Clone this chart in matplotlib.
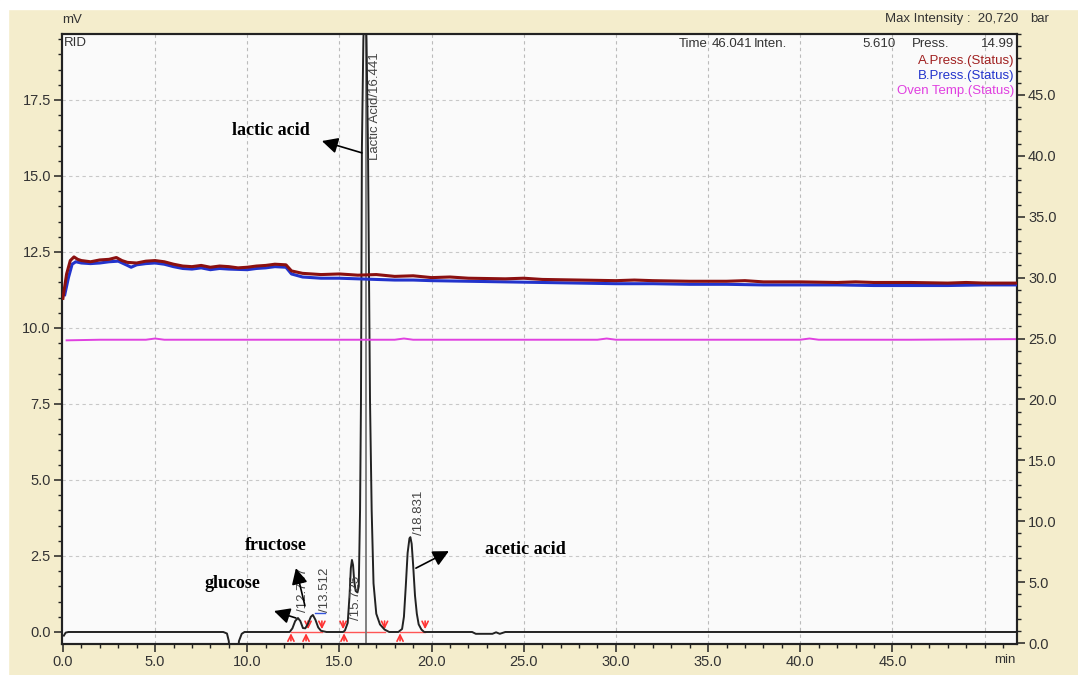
import matplotlib
matplotlib.use("Agg")
import matplotlib.pyplot as plt
from matplotlib.patches import Rectangle
from matplotlib.ticker import MultipleLocator, FormatStrFormatter

# ---------------- data ----------------
# chromatogram (RID signal), time [min] and intensity [mV]
chrom_t = [0.05, 0.15, 0.3, 8.7, 8.9, 9.0, 9.05, 9.45, 9.55, 9.7, 9.85, 12.3, 12.45, 12.6, 12.75, 12.88,
           13.02, 13.15, 13.3, 13.45, 13.56, 13.7, 13.85, 14.0, 14.3, 15.2, 15.3, 15.45, 15.55, 15.62,
           15.68, 15.74, 15.8, 15.88, 15.98, 16.05, 16.12, 16.17, 16.22, 16.3, 16.39, 16.47, 16.55,
           16.66, 16.75, 16.85, 17.0, 17.2, 17.45, 17.7, 18.2, 18.4, 18.5, 18.6, 18.7, 18.8, 18.85,
           18.92, 19.0, 19.1, 19.2, 19.3, 19.45, 19.6, 22.2, 22.4, 23.3, 23.5, 23.7, 24.0, 51.8]
chrom_v = [-0.12, -0.02, 0.0, 0.0, -0.05, -0.3, -1.0, -1.0, -0.3, -0.06, 0.0, 0.0, 0.12, 0.36, 0.46, 0.36,
           0.13, 0.12, 0.28, 0.5, 0.56, 0.4, 0.15, 0.04, 0.0, 0.0, 0.05, 0.3, 1.2, 2.1,
           2.37, 2.2, 1.7, 1.35, 1.3, 1.5, 4.0, 7.6, 15.9, 19.5, 21.0, 19.5, 15.9,
           7.6, 4.0, 1.6, 0.6, 0.25, 0.08, 0.0, 0.0, 0.1, 0.5, 1.5, 2.6, 3.08, 3.12,
           2.9, 2.2, 1.2, 0.6, 0.25, 0.08, 0.0, 0.0, -0.06, -0.06, -0.01, -0.06, 0.0, 0.0]

# pump pressures [bar]
pa_t = [0.0, 0.2, 0.4, 0.6, 0.8, 1.0, 1.5, 2.0, 2.5, 2.9, 3.2, 3.5, 4.0, 4.5, 5.0, 5.5, 6.0, 6.5, 7.0,
        7.5, 8.0, 8.5, 9.0, 9.5, 10.0, 10.5, 11.0, 11.5, 12.1, 12.4, 13.0, 13.5, 14.0, 15.0, 16.0, 17.0,
        18.0, 19.0, 20.0, 21.0, 22.0, 24.0, 25.0, 26.0, 28.0, 30.0, 31.0, 32.0, 34.0, 36.0, 37.0, 38.0,
        40.0, 42.0, 43.0, 44.0, 46.0, 48.0, 49.0, 50.0, 51.7]
pa_v = [28.3, 30.3, 31.4, 31.7, 31.5, 31.4, 31.3, 31.45, 31.5, 31.65, 31.4, 31.25, 31.2, 31.35, 31.4, 31.3,
        31.1, 30.95, 30.9, 31.0, 30.85, 30.95, 30.9, 30.8, 30.85, 30.95, 31.0, 31.1, 31.05, 30.55, 30.35,
        30.3, 30.25, 30.3, 30.2, 30.25, 30.1, 30.15, 30.0, 30.05, 29.95, 29.9, 29.95, 29.85, 29.8, 29.75,
        29.8, 29.75, 29.7, 29.7, 29.75, 29.65, 29.65, 29.6, 29.65, 29.6, 29.6, 29.55, 29.6, 29.55, 29.55]
pb_t = [0.1, 0.3, 0.5, 0.7, 1.0, 1.5, 2.0, 2.5, 3.0, 3.5, 3.7, 4.0, 4.5, 5.0, 5.5, 6.0, 6.5, 7.0, 7.5,
        8.0, 8.5, 9.0, 10.0, 10.5, 11.0, 11.5, 12.1, 12.4, 13.0, 14.0, 15.0, 16.0, 17.0, 18.0, 19.0,
        20.0, 22.0, 24.0, 26.0, 28.0, 30.0, 32.0, 34.0, 36.0, 38.0, 40.0, 42.0, 44.0, 46.0, 48.0, 50.0,
        51.7]
pb_v = [28.6, 30.0, 31.1, 31.3, 31.2, 31.15, 31.2, 31.3, 31.35, 31.0, 30.85, 31.05, 31.15, 31.2, 31.1,
        30.9, 30.75, 30.7, 30.8, 30.65, 30.75, 30.7, 30.65, 30.75, 30.8, 30.9, 30.85, 30.3, 30.05, 29.95,
        29.95, 29.9, 29.85, 29.8, 29.8, 29.75, 29.7, 29.65, 29.6, 29.55, 29.5, 29.5, 29.45, 29.45, 29.4,
        29.4, 29.4, 29.35, 29.35, 29.35, 29.4, 29.4]
# oven temperature (plotted on right axis)
oven_t = [0.2, 2.0, 4.5, 5.0, 5.5, 12.0, 18.0, 18.5, 19.0, 26.0, 29.0, 29.5, 30.0, 36.0, 40.0, 40.5, 41.0,
          46.0, 51.7]
oven_v = [24.85, 24.9, 24.9, 25.0, 24.9, 24.9, 24.9, 25.0, 24.9, 24.9, 24.9, 25.0, 24.9, 24.9, 24.9,
          25.0, 24.9, 24.9, 24.95]

# peak labels
peak_labels = ["/12.737", "/13.512", "/15.725", "Lactic Acid/16.441", "/18.831"]
peak_label_t = [13.04, 14.2, 15.9, 16.93, 19.32]
peak_label_v = [0.66, 0.66, 0.4, 15.53, 3.19]
lactic_rt = 16.441

# integration marks
mark_up_t = [12.37, 13.19, 15.25, 18.29]
mark_down_t = [13.3, 14.05, 15.2, 17.45, 19.65]
int_base_t = [(12.37, 14.05), (15.25, 17.45), (18.29, 19.65)]

# compound annotations: text, text position, arrow tail, arrow head
ann_text = ["lactic acid", "fructose", "glucose", "acetic acid"]
ann_pos = [(11.29, 16.51), (11.56, 2.86), (9.17, 1.61), (25.07, 2.70)]
ann_tail = [(16.22, 15.76), (13.13, 0.86), (12.64, 0.46), (19.15, 2.1)]
ann_head = [(14.05, 16.15), (12.64, 2.1), (11.45, 0.69), (20.94, 2.66)]

# ---------------- figure ----------------
W, H = 1078, 675
fig = plt.figure(figsize=(W / 100, H / 100), dpi=100)
fig.patch.set_facecolor("#F4EDCC")
fig.patches.append(Rectangle((0, 1 - 9 / H), 1, 9 / H, transform=fig.transFigure, color="white", zorder=0))
fig.patches.append(Rectangle((0, 0), 8 / W, 1, transform=fig.transFigure, color="white", zorder=0))

L, R, T, B = 62, 1017, 34, 644
ax = fig.add_axes([L / W, 1 - B / H, (R - L) / W, (B - T) / H])
ax.set_facecolor("#FAFAFA")
ax.set_xlim(-0.05, 51.76)

ax2 = ax.twinx()

font = "Liberation Sans"
tick_col = "#333333"

# grid
for gx in range(5, 55, 5):
    ax.axvline(gx, color="#BBBBBB", lw=0.8, ls=(0, (3, 3)), zorder=0)
for gy in [2.5, 5.0, 7.5, 10.0, 12.5, 15.0, 17.5]:
    ax.axhline(gy, color="#C8C8C8", lw=0.8, ls=(0, (3, 3)), zorder=0)

# pressure / oven lines (right axis)
ax2.plot(oven_t, oven_v, color="#E040E0", lw=1.4, zorder=2)
ax2.plot(pb_t, pb_v, color="#2233CC", lw=2.2, zorder=3)
ax2.plot(pa_t, pa_v, color="#8B1010", lw=2.2, zorder=4)

# integration baselines & marks
for a, b in int_base_t:
    ax.plot([a, b], [0.0, 0.0], color="#FF5555", lw=1.0, zorder=3)
for t in mark_up_t:
    ax.annotate("", xy=(t, 0.05), xytext=(t, -0.38),
                arrowprops=dict(arrowstyle="->", color="#FF3333", lw=1.2, mutation_scale=11), zorder=5)
for t in mark_down_t:
    ax.annotate("", xy=(t, 0.0), xytext=(t, 0.45),
                arrowprops=dict(arrowstyle="->", color="#FF3333", lw=1.2, mutation_scale=11), zorder=5)

# chromatogram
ax.axvline(lactic_rt, color="#777777", lw=1.3, zorder=4)
ax.plot(chrom_t, chrom_v, color="#222222", lw=1.4, zorder=6)
ax.plot([13.7, 14.2], [0.62, 0.62], color="#3355DD", lw=1.0, zorder=5)

# peak labels
for s, t, v in zip(peak_labels, peak_label_t, peak_label_v):
    ax.text(t, v, s, rotation=90, rotation_mode="anchor", ha="left", va="center",
            fontsize=9.5, color="#444444", family=font, zorder=7)

# compound annotations
for s, p, tail, head in zip(ann_text, ann_pos, ann_tail, ann_head):
    ax.text(p[0], p[1], s, ha="center", va="center", fontsize=13, fontweight="bold",
            family="Liberation Serif", color="black", zorder=8)
    ax.annotate("", xy=head, xytext=tail,
                arrowprops=dict(arrowstyle="-|>", color="black", lw=1.2, mutation_scale=24,
                                shrinkA=0, shrinkB=0), zorder=8)

# axes styling
for a in (ax, ax2):
    for sp in a.spines.values():
        sp.set_linewidth(1.5)
        sp.set_color("#222222")

ax.set_xticks([0, 5, 10, 15, 20, 25, 30, 35, 40, 45])
ax.xaxis.set_minor_locator(MultipleLocator(1))
ax.xaxis.set_major_formatter(FormatStrFormatter("%.1f"))
ax.yaxis.set_major_locator(MultipleLocator(2.5))
ax.yaxis.set_minor_locator(MultipleLocator(0.5))
ax.yaxis.set_major_formatter(FormatStrFormatter("%.1f"))
ax2.set_yticks([0, 5, 10, 15, 20, 25, 30, 35, 40, 45])
ax2.yaxis.set_minor_locator(MultipleLocator(1))
ax2.yaxis.set_major_formatter(FormatStrFormatter("%.1f"))
ax2.set_ylim(-0.08, 50.0)
ax.set_ylim(-0.395, 19.67)

ax.tick_params(axis="both", which="major", direction="out", length=6, width=1.1, colors="#222222",
               labelsize=10.5, labelcolor=tick_col, pad=2)
ax.tick_params(axis="both", which="minor", direction="out", length=3, width=1.0, colors="#222222")
ax2.tick_params(axis="y", which="major", direction="out", length=6, width=1.1, colors="#222222",
                labelsize=10.5, labelcolor=tick_col, pad=2)
ax2.tick_params(axis="y", which="minor", direction="out", length=3, width=1.0, colors="#222222")
for lab in ax.get_xticklabels() + ax.get_yticklabels() + ax2.get_yticklabels():
    lab.set_family(font)

# header / footer texts
fs = 9.5
fig.text(62 / W, 1 - 20 / H, "mV", ha="left", va="center", fontsize=fs, color=tick_col, family=font)
fig.text(1005 / W, 1 - 660 / H, "min", ha="center", va="center", fontsize=fs, color=tick_col, family=font)
fig.text(1030 / W, 1 - 19 / H, "bar", ha="left", va="center", fontsize=fs, color=tick_col, family=font)
fig.text(1018 / W, 1 - 19 / H, "Max Intensity :  20,720", ha="right", va="center", fontsize=fs,
         color=tick_col, family=font)
fig.text(64 / W, 1 - 43 / H, "RID", ha="left", va="center", fontsize=fs, color=tick_col, family=font)

top_texts = [("Time", 679, "left"), ("46.041", 712, "left"), ("Inten.", 754, "left"),
             ("5.610", 896, "right"), ("Press.", 912, "left"), ("14.99", 1014, "right")]
for s, x, ha in top_texts:
    fig.text(x / W, 1 - 44 / H, s, ha=ha, va="center", fontsize=fs, color=tick_col, family=font)

legend_items = [("A.Press.(Status)", "#A02020", 61), ("B.Press.(Status)", "#2233CC", 76),
                ("Oven Temp.(Status)", "#E040E0", 91)]
for s, c, y in legend_items:
    fig.text(1014 / W, 1 - y / H, s, ha="right", va="center", fontsize=fs, color=c, family=font)

fig.savefig("out.png", dpi=100, facecolor=fig.get_facecolor())
